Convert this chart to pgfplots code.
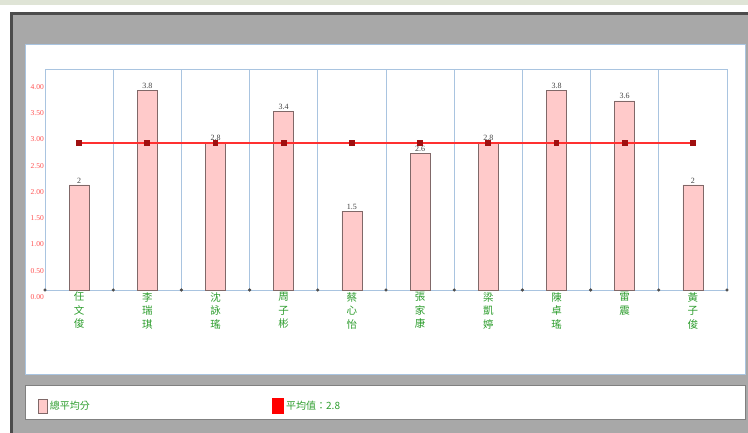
\documentclass[border=0pt]{standalone}
\usepackage{pgfplots}
\pgfplotsset{compat=1.18}
\usepackage{fontspec}
\setmainfont{Liberation Serif}
\newfontfamily\cjk{Noto Sans CJK TC}
\definecolor{gridblue}{HTML}{A9C4E0}
\definecolor{barpink}{HTML}{FFCACA}
\definecolor{baredge}{HTML}{806868}
\definecolor{avgred}{HTML}{FF3030}
\definecolor{markred}{HTML}{A01010}
\definecolor{tickred}{HTML}{FF5050}
\definecolor{labgreen}{HTML}{2E9E2E}
\definecolor{framegrey}{HTML}{A8A8A8}
\definecolor{framedark}{HTML}{4C4C4C}
\definecolor{topstrip}{HTML}{DFE4D6}
\begin{document}
\begin{tikzpicture}[x=1pt,y=1pt]
\useasboundingbox (0,0) rectangle (748,433);
\clip (0,0) rectangle (748,433);
\fill[white] (0,0) rectangle (748,433);
\fill[topstrip] (0,428) rectangle (748,433);
\filldraw[fill=framegrey, draw=framedark, line width=3pt] (11.5,-5) rectangle (760,419.5);
\filldraw[fill=white, draw=gridblue, line width=1pt] (25,58) rectangle (745,388);
\filldraw[fill=white, draw=gray, line width=1pt] (25,13) rectangle (745,47);
\begin{axis}[
  at={(45pt,143pt)}, anchor=south west, scale only axis,
  width=682pt, height=220.5pt,
  xmin=0.5, xmax=10.5, ymin=0, ymax=4.2,
  axis line style={gridblue, line width=0.8pt},
  xtick={1,...,10},
  xticklabels={{任\\文\\俊},{李\\瑞\\琪},{沈\\詠\\瑤},{周\\子\\彬},{蔡\\心\\怡},{張\\家\\康},{梁\\凱\\婷},{陳\\卓\\瑤},{雷\\震},{黃\\子\\俊}},
  xticklabel style={align=center, font=\cjk\fontsize{10.5}{13.5}\selectfont, text=labgreen, anchor=north, inner sep=1pt, yshift=-1pt},
  minor xtick={1.5,2.5,...,9.5},
  xminorgrids=true,
  minor grid style={gridblue, line width=0.8pt},
  major tick length=0pt, minor tick length=0pt,
  ytick={0,0.5,...,4},
  /pgf/number format/assume math mode=true,
  yticklabel style={font=\fontsize{7.5}{8}\selectfont, text=tickred, yshift=-7pt, inner sep=1pt,
    /pgf/number format/fixed, /pgf/number format/fixed zerofill, /pgf/number format/precision=2},
  legend style={at={(axis description cs:-0.0147,-0.526)}, anchor=west, draw=none, fill=none,
    font=\cjk\fontsize{10}{12}\selectfont, text=labgreen, /tikz/column 2/.style={column sep=180pt}},
  legend columns=2,
  legend cell align=left,
  clip=false,
]
\addplot[ybar, bar width=20pt, fill=barpink, draw=baredge, line width=0.8pt,
  nodes near coords={\pgfmathprintnumber[fixed,precision=1]{\pgfplotspointmeta}},
  every node near coord/.append style={font=\fontsize{8}{9}\selectfont, text=black!75, inner sep=1.5pt},
  legend image code/.code={\filldraw[fill=barpink, draw=baredge, line width=0.8pt] (0pt,-7pt) rectangle (9pt,7pt);}]
  coordinates {(1,2) (2,3.8) (3,2.8) (4,3.4) (5,1.5) (6,2.6) (7,2.8) (8,3.8) (9,3.6) (10,2)};
\addlegendentry{總平均分}
\addplot[avgred, line width=1.2pt, mark=square*, mark size=2.3pt, mark options={fill=markred, draw=markred},
  legend image code/.code={\fill[red] (0pt,-7.5pt) rectangle (11pt,7.5pt);}]
  coordinates {(1,2.8) (2,2.8) (3,2.8) (4,2.8) (5,2.8) (6,2.8) (7,2.8) (8,2.8) (9,2.8) (10,2.8)};
\addlegendentry{平均值：2.8}
\addplot[only marks, mark=*, mark size=1.4pt, color=black!70, forget plot]
  coordinates {(0.5,0) (1.5,0) (2.5,0) (3.5,0) (4.5,0) (5.5,0) (6.5,0) (7.5,0) (8.5,0) (9.5,0) (10.5,0)};
\end{axis}
\end{tikzpicture}
\end{document}
